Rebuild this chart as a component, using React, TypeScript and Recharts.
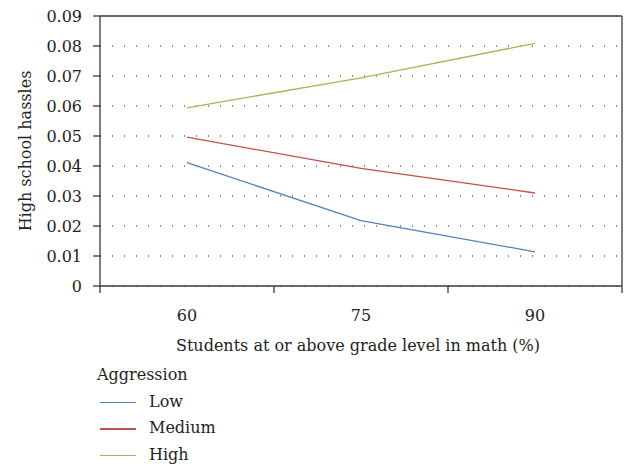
import { LineChart, Line, XAxis, YAxis, CartesianGrid, ReferenceLine, Legend } from "recharts";

// data
const categories = ["60", "75", "90"];
const lowValues = [0.0411, 0.0218, 0.0114];
const mediumValues = [0.0496, 0.0392, 0.031];
const highValues = [0.0594, 0.0694, 0.0809];
const seriesNames = ["Low", "Medium", "High"];
const yTicks = [0, 0.01, 0.02, 0.03, 0.04, 0.05, 0.06, 0.07, 0.08, 0.09];
const legendTitle = "Aggression";
const xTitle = "Students at or above grade level in math (%)";
const yTitle = "High school hassles";

const FONT = "DejaVu Serif";
const FS = 16;
const TEXT = "#231f20";
const AXIS = "#3a3a3a";
const COLORS = ["#4f81bd", "#c0504d", "#9bbb59"];

// categories sit in the middle of each band, ticks on the band edges
const data = categories.map((label, i) => ({
  pos: i + 0.5,
  label,
  low: lowValues[i],
  medium: mediumValues[i],
  high: highValues[i],
}));
const xTicks = [0, 0.5, 1, 1.5, 2, 2.5, 3];

const XTick = (props: any) => {
  const { x, y, payload } = props;
  const v = payload.value;
  if (Number.isInteger(v)) {
    return <line x1={x} x2={x} y1={y} y2={y + 7} stroke={AXIS} strokeWidth={1.3} />;
  }
  return (
    <text x={x} y={y + 35} textAnchor="middle" fill={TEXT} fontSize={FS} style={{ fontFamily: FONT }}>
      {categories[Math.floor(v)]}
    </text>
  );
};

const YTitle = (props: any) => {
  const vb = props.viewBox || { x: 0, y: 16, width: 100, height: 270 };
  const cx = vb.x + 31;
  const cy = vb.y + vb.height / 2;
  return (
    <text x={cx} y={cy} transform={`rotate(-90, ${cx}, ${cy})`} textAnchor="middle" fill={TEXT} fontSize={FS} style={{ fontFamily: FONT }}>
      {yTitle}
    </text>
  );
};

const renderLegend = ({ payload }: any) => {
  const items = seriesNames.map((name) => (payload || []).find((p: any) => p.value === name)).filter(Boolean);
  return (
    <div style={{ fontFamily: FONT, fontSize: FS, lineHeight: "26.5px", color: TEXT }}>
      <div>{legendTitle}</div>
      {items.map((entry: any) => (
        <div key={entry.value} style={{ position: "relative", paddingLeft: 52 }}>
          <span
            style={{ position: "absolute", left: 3, top: 13, width: 36, height: 1.5, background: entry.color }}
          />
          {entry.value}
        </div>
      ))}
    </div>
  );
};

export default function App() {
  return (
    <div style={{ position: "absolute", left: 0, top: 0, fontFamily: FONT }}>
      <LineChart
        width={624}
        height={469}
        data={data}
        margin={{ top: 16, right: 2, left: 0, bottom: 103 }}
        style={{ fontFamily: FONT }}
      >
        <CartesianGrid horizontal vertical={false} stroke="#111" strokeDasharray="1 11" />
        <XAxis
          dataKey="pos"
          type="number"
          domain={[0, 3]}
          ticks={xTicks}
          interval={0}
          height={80}
          tickSize={0}
          tickMargin={0}
          tickLine={false}
          tick={<XTick />}
          axisLine={{ stroke: AXIS, strokeWidth: 1.3 }}
          label={{ value: xTitle, position: "insideTop", offset: 54, dx: -3, fill: TEXT, fontSize: FS, style: { fontFamily: FONT } }}
        />
        <YAxis
          domain={[0, 0.09]}
          ticks={yTicks}
          interval={0}
          width={100}
          tickSize={7}
          tickMargin={11}
          tickFormatter={(v: number) => (v === 0 ? "0" : v.toFixed(2))}
          tick={{ fill: TEXT, fontSize: FS, style: { fontFamily: FONT } }}
          tickLine={{ stroke: AXIS, strokeWidth: 1.3 }}
          axisLine={{ stroke: AXIS, strokeWidth: 1.3 }}
          label={<YTitle />}
        />
        <ReferenceLine y={0.09} stroke={AXIS} strokeWidth={1.3} />
        <ReferenceLine x={3} stroke={AXIS} strokeWidth={1.3} />
        <Legend
          layout="vertical"
          align="center"
          verticalAlign="middle"
          content={renderLegend}
          wrapperStyle={{ left: 97, top: 362, width: 220 }}
        />
        <Line type="linear" dataKey="low" name={seriesNames[0]} stroke={COLORS[0]} strokeWidth={1.3} dot={false} isAnimationActive={false} />
        <Line type="linear" dataKey="medium" name={seriesNames[1]} stroke={COLORS[1]} strokeWidth={1.3} dot={false} isAnimationActive={false} />
        <Line type="linear" dataKey="high" name={seriesNames[2]} stroke={COLORS[2]} strokeWidth={1.3} dot={false} isAnimationActive={false} />
      </LineChart>
    </div>
  );
}
